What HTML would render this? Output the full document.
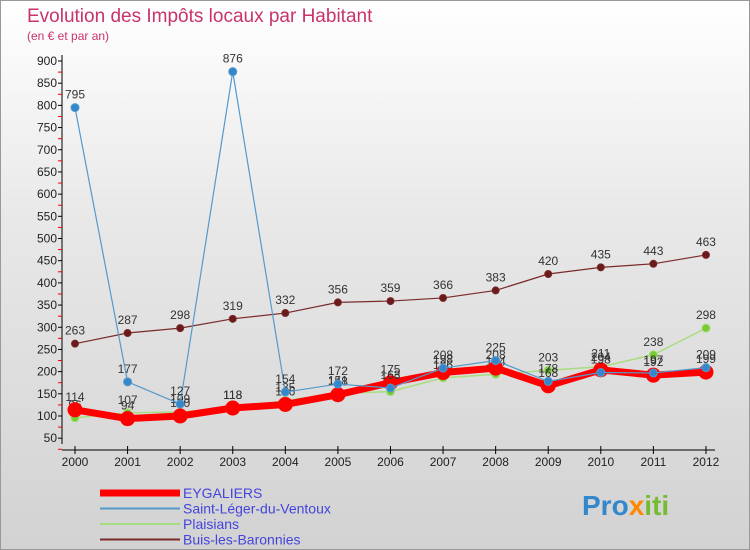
<!DOCTYPE html>
<html><head><meta charset="utf-8"><style>
body{margin:0;width:750px;height:550px;overflow:hidden;font-family:"Liberation Sans",sans-serif}
#bg{position:absolute;left:0;top:0;width:748px;height:548px;border:1px solid #999;background:linear-gradient(#ffffff 0%,#e8e8e8 40%,#d2d2d2 100%)}
</style></head><body>
<div id="bg"></div>
<svg id="c" width="750" height="550" style="position:absolute;left:0;top:0"></svg>
<script>
const years=["2000","2001","2002","2003","2004","2005","2006","2007","2008","2009","2010","2011","2012"];
const eygaliers=[114,94,100,118,126,148,175,198,208,168,204,192,199];
const saintLeger=[795,177,127,876,154,172,163,208,225,178,198,197,209];
const plaisians=[96,107,109,118,135,151,155,186,194,203,211,238,298];
const buis=[263,287,298,319,332,356,359,366,383,420,435,443,463];
const yTicks=[50,100,150,200,250,300,350,400,450,500,550,600,650,700,750,800,850,900];
const NS="http://www.w3.org/2000/svg";
const svg=document.getElementById('c');
const X=i=>75+i*52.58;
const Y=v=>416-(v-100)*0.44375;
function mk(t,a,p){const e=document.createElementNS(NS,t);for(const k in a)e.setAttribute(k,a[k]);(p||svg).appendChild(e);return e;}
// title
let t=mk('text',{x:27,y:22,fill:'#c8336e','font-size':19});t.textContent='Evolution des Impôts locaux par Habitant';

t=mk('text',{x:27,y:40,fill:'#c8336e','font-size':12});t.textContent='(en € et par an)';

// axes
let ax=mk('g',{});
mk('line',{x1:62,y1:55,x2:62,y2:444,stroke:'#000'},ax);
yTicks.forEach(v=>{const y=Y(v);mk('line',{x1:58,y1:y,x2:62,y2:y,stroke:'#000'},ax);
mk('line',{x1:58,y1:y+11.1,x2:62,y2:y+11.1,stroke:'#e00'},ax);
const tx=mk('text',{x:57,y:y+4,'text-anchor':'end','font-size':12,fill:'#222'},ax);tx.textContent=v;});
let xa=mk('g',{});
mk('line',{x1:62,y1:450,x2:715,y2:450,stroke:'#000'},xa);
years.forEach((yr,i)=>{mk('line',{x1:X(i),y1:446,x2:X(i),y2:454,stroke:'#000'},xa);
const tx=mk('text',{x:X(i),y:466,'text-anchor':'middle','font-size':12,fill:'#222'},xa);tx.textContent=yr;});
function series(vals,color,w,r,fill,name){
const g=mk('g',{});
mk('polyline',{points:vals.map((v,i)=>X(i)+','+Y(v)).join(' '),fill:'none',stroke:color,'stroke-width':w,'stroke-linejoin':'round'},g);
vals.forEach((v,i)=>{const c=mk('circle',{cx:X(i),cy:Y(v),r:r,fill:fill,stroke:color,'stroke-width':1},g);

const tx=mk('text',{x:X(i),y:Y(v)-9,'text-anchor':'middle','font-size':12,fill:'#333'},g);tx.textContent=v;});}
series(buis,'#7a2a2a',1.2,3.5,'#6a1a1a','series-buis');
series(plaisians,'#a8dc80',1.5,4,'#77cc33','series-plaisians');
series(eygaliers,'#ff0000',7,7,'#ff0000','series-eygaliers');
series(saintLeger,'#5599cc',1.2,4,'#3388cc','series-saint-leger');
// legend
const leg=[['EYGALIERS','#ff0000',7],['Saint-Léger-du-Ventoux','#5599cc',2],['Plaisians','#a8dc80',2],['Buis-les-Baronnies','#7a2a2a',2]];
leg.forEach((l,i)=>{const g=mk('g',{});
const y=493+i*15.5;mk('line',{x1:100,y1:y,x2:180,y2:y,stroke:l[1],'stroke-width':l[2]},g);
const tx=mk('text',{x:183,y:y+5,'font-size':14,fill:'#4444dd'},g);tx.textContent=l[0];});
// logo
const lg=mk('text',{x:582,y:515,'font-size':28,'font-weight':'bold',fill:'#3388cc'});

[['Pro','#3388cc'],['x','#ff8800'],['iti','#77bb33']].forEach(p=>{const s=mk('tspan',{fill:p[1]},lg);s.textContent=p[0];});
</script>
</body></html>
